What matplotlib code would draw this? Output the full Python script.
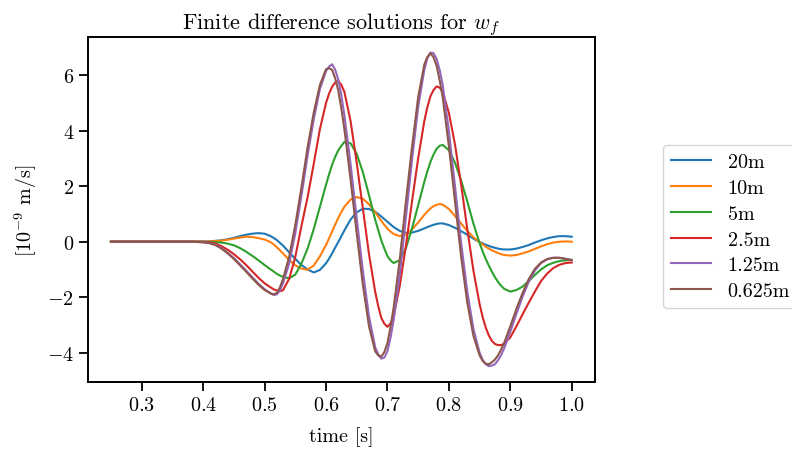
import matplotlib
matplotlib.use("Agg")
import matplotlib.pyplot as plt

plt.rcParams['font.family'] = 'serif'
plt.rcParams['font.serif'] = ['cmr10']
plt.rcParams['mathtext.fontset'] = 'cm'
plt.rcParams['axes.formatter.use_mathtext'] = True
plt.rcParams['font.size'] = 14.5
plt.rcParams['axes.linewidth'] = 1.4
plt.rcParams['xtick.major.size'] = 6.5
plt.rcParams['ytick.major.size'] = 6.5
plt.rcParams['xtick.major.width'] = 1.3
plt.rcParams['ytick.major.width'] = 1.3

# sample times [s], denser around the extrema
time = [0.25, 0.30, 0.35, 0.38,
        0.40, 0.41, 0.42, 0.43, 0.44, 0.45, 0.46, 0.47, 0.48, 0.49, 0.50,
        0.51, 0.515, 0.52, 0.525, 0.53, 0.54, 0.55, 0.56, 0.57, 0.58, 0.59,
        0.60, 0.605, 0.61, 0.615, 0.62, 0.625, 0.63, 0.64, 0.65, 0.66, 0.67,
        0.68, 0.685, 0.69, 0.695, 0.70, 0.705, 0.71, 0.72, 0.73, 0.74, 0.75,
        0.76, 0.765, 0.77, 0.775, 0.78, 0.785, 0.79, 0.80, 0.81, 0.82, 0.83,
        0.84, 0.85, 0.855, 0.86, 0.865, 0.87, 0.875, 0.88, 0.885, 0.89,
        0.90, 0.91, 0.92, 0.93, 0.94, 0.95, 0.96, 0.97, 0.98, 0.99, 1.00]

labels = ['20m', '10m', '5m', '2.5m', '1.25m', '0.625m']

w_20 = [0.0, 0.0, 0.0, 0.0,
        0.00, 0.01, 0.03, 0.05, 0.09, 0.14, 0.20, 0.25, 0.29, 0.31, 0.29,
        0.20, 0.135, 0.06, -0.04, -0.14, -0.38, -0.62, -0.84, -1.00, -1.11, -1.02,
        -0.78, -0.61, -0.42, -0.21, -0.01, 0.20, 0.41, 0.80, 1.06, 1.19, 1.18,
        1.08, 1.00, 0.91, 0.815, 0.72, 0.625, 0.53, 0.39, 0.32, 0.33, 0.39,
        0.48, 0.525, 0.57, 0.61, 0.64, 0.66, 0.66, 0.60, 0.50, 0.38, 0.25,
        0.11, -0.01, -0.06, -0.11, -0.15, -0.19, -0.22, -0.25, -0.27, -0.28,
        -0.28, -0.25, -0.19, -0.12, -0.03, 0.05, 0.12, 0.17, 0.20, 0.20, 0.18]

w_10 = [0.0, 0.0, 0.0, 0.0,
        0.00, 0.01, 0.02, 0.04, 0.07, 0.11, 0.15, 0.18, 0.17, 0.13, 0.08,
        -0.02, -0.10, -0.20, -0.31, -0.42, -0.66, -0.85, -0.97, -1.01, -0.86, -0.53,
        -0.12, 0.12, 0.37, 0.62, 0.86, 1.07, 1.26, 1.52, 1.61, 1.55, 1.35,
        1.07, 0.91, 0.75, 0.61, 0.47, 0.37, 0.28, 0.20, 0.26, 0.44, 0.69,
        0.97, 1.09, 1.20, 1.28, 1.33, 1.36, 1.34, 1.18, 0.93, 0.65, 0.39,
        0.16, -0.02, -0.10, -0.18, -0.25, -0.31, -0.36, -0.41, -0.45, -0.48,
        -0.50, -0.48, -0.42, -0.35, -0.26, -0.17, -0.09, -0.03, 0.00, 0.01, 0.00]

w_5 = [0.0, 0.0, 0.0, 0.0,
       0.00, -0.01, -0.02, -0.03, -0.07, -0.13, -0.23, -0.36, -0.51, -0.67, -0.84,
       -1.00, -1.08, -1.16, -1.22, -1.27, -1.32, -1.19, -0.79, -0.25, 0.45, 1.25,
       2.05, 2.43, 2.78, 3.06, 3.30, 3.46, 3.60, 3.55, 3.17, 2.51, 1.68,
       0.80, 0.42, 0.05, -0.25, -0.52, -0.67, -0.77, -0.67, -0.24, 0.48, 1.31,
       2.16, 2.54, 2.88, 3.14, 3.35, 3.46, 3.49, 3.30, 2.85, 2.20, 1.45,
       0.65, -0.05, -0.35, -0.62, -0.86, -1.08, -1.28, -1.45, -1.59, -1.70,
       -1.80, -1.74, -1.62, -1.42, -1.20, -1.00, -0.85, -0.76, -0.70, -0.67, -0.66]

w_2p5 = [0.0, 0.0, 0.0, 0.0,
         0.00, -0.02, -0.07, -0.16, -0.29, -0.45, -0.63, -0.84, -1.07, -1.30, -1.50,
         -1.65, -1.72, -1.76, -1.79, -1.75, -1.34, -0.55, 0.56, 1.60, 2.80, 4.05,
         5.00, 5.34, 5.59, 5.74, 5.80, 5.66, 5.40, 4.35, 2.85, 1.20, -0.45,
         -1.80, -2.32, -2.75, -2.96, -3.07, -2.95, -2.70, -1.60, -0.15, 1.45, 3.00,
         4.35, 4.85, 5.25, 5.47, 5.60, 5.56, 5.40, 4.65, 3.50, 2.05, 0.45,
         -1.05, -2.25, -2.72, -3.10, -3.38, -3.58, -3.69, -3.73, -3.73, -3.68,
         -3.45, -3.05, -2.62, -2.20, -1.80, -1.42, -1.15, -0.95, -0.83, -0.77, -0.75]

w_1p25 = [0.0, 0.0, 0.0, 0.0,
          -0.02, -0.05, -0.11, -0.23, -0.40, -0.59, -0.81, -1.04, -1.28, -1.51, -1.71,
          -1.86, -1.92, -1.90, -1.76, -1.50, -0.80, 0.30, 1.65, 3.10, 4.40, 5.50,
          6.15, 6.32, 6.40, 6.20, 5.85, 5.28, 4.55, 2.80, 0.85, -1.05, -2.70,
          -3.80, -4.06, -4.22, -4.18, -3.95, -3.47, -2.85, -1.20, 0.85, 2.95, 4.85,
          6.20, 6.62, 6.82, 6.80, 6.60, 6.20, 5.65, 4.00, 2.00, -0.05, -1.80,
          -3.15, -4.00, -4.26, -4.42, -4.49, -4.47, -4.42, -4.28, -4.09, -3.85,
          -3.25, -2.60, -1.98, -1.45, -1.04, -0.77, -0.63, -0.58, -0.58, -0.62, -0.66]

w_0p625 = [0.0, 0.0, 0.0, 0.0,
           -0.02, -0.05, -0.12, -0.25, -0.42, -0.62, -0.85, -1.08, -1.32, -1.55, -1.74,
           -1.87, -1.90, -1.85, -1.65, -1.35, -0.55, 0.60, 1.95, 3.40, 4.65, 5.65,
           6.22, 6.26, 6.20, 5.89, 5.45, 4.80, 4.05, 2.25, 0.30, -1.55, -3.05,
           -3.95, -4.10, -4.15, -3.98, -3.66, -3.08, -2.40, -0.65, 1.43, 3.41, 5.21,
           6.39, 6.66, 6.80, 6.65, 6.35, 5.83, 5.20, 3.45, 1.45, -0.55, -2.20,
           -3.40, -4.10, -4.30, -4.40, -4.42, -4.35, -4.25, -4.10, -3.89, -3.65,
           -3.05, -2.42, -1.85, -1.35, -0.98, -0.75, -0.63, -0.58, -0.58, -0.62, -0.66]

series = [w_20, w_10, w_5, w_2p5, w_1p25, w_0p625]

fig = plt.figure(figsize=(7.92, 4.52), dpi=100)
ax = fig.add_axes([0.111, 0.153, 0.640, 0.763])

for w, lab in zip(series, labels):
    ax.plot(time, w, label=lab)

ax.set_title(r'Finite difference solutions for $w_f$', fontsize=16)
ax.set_xlabel('time [s]', labelpad=9)
ax.set_ylabel(r'[$10^{-9}$ m/s]', labelpad=6)
ax.set_xticks([0.3, 0.4, 0.5, 0.6, 0.7, 0.8, 0.9, 1.0])

# legend sits outside the axes and runs past the right edge, as in the original
fig.legend(loc='center left', bbox_to_anchor=(0.8245, 0.496),
           fontsize=14.5, labelspacing=0.38)

fig.savefig('out.png', dpi=100)
